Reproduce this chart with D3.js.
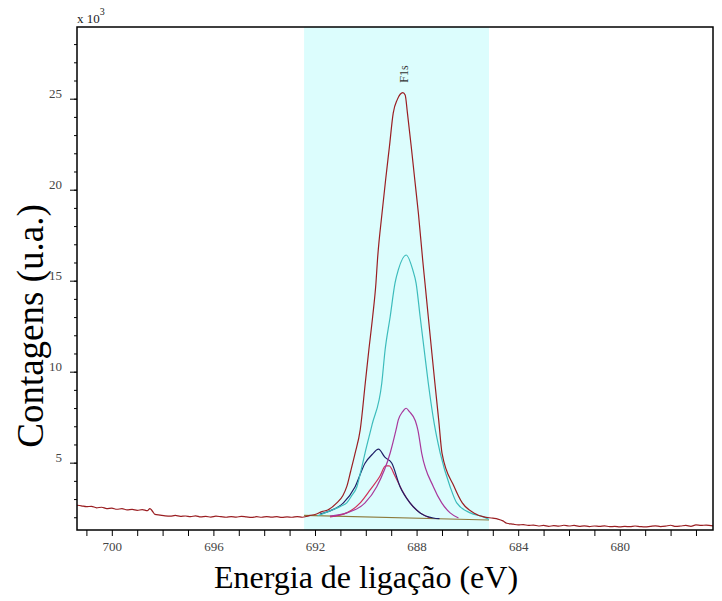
<!DOCTYPE html>
<html>
<head>
<meta charset="utf-8">
<script src="https://cdn.jsdelivr.net/npm/d3@7"></script>
<style>
  body { margin: 0; background: #fff; }
  text { font-family: "Liberation Serif", "Times New Roman", serif; }
</style>
</head>
<body>
<div id="chart"></div>
<script>
// data: [binding energy eV, counts x10^3]
const spectrum = [
  [701.37, 2.66], [701.2, 2.63], [701.0, 2.58], [700.8, 2.6], [700.6, 2.52], [700.4, 2.55],
  [700.2, 2.48], [700.0, 2.5], [699.8, 2.44], [699.6, 2.47], [699.4, 2.41], [699.2, 2.43],
  [699.0, 2.38], [698.8, 2.42], [698.6, 2.36], [698.5, 2.48], [698.4, 2.33], [698.3, 2.16],
  [698.1, 2.12], [697.9, 2.08], [697.7, 2.06], [697.5, 2.1], [697.3, 2.05], [697.1, 2.07],
  [696.9, 2.03], [696.7, 2.08], [696.5, 2.02], [696.3, 2.05], [696.1, 2.01], [695.9, 2.06],
  [695.7, 2.03], [695.5, 2.0], [695.3, 2.04], [695.1, 2.01], [694.9, 2.05], [694.7, 2.02],
  [694.5, 1.99], [694.3, 2.03], [694.1, 2.0], [693.9, 2.04], [693.7, 2.01], [693.5, 2.03],
  [693.3, 1.99], [693.1, 2.02], [692.9, 2.0], [692.7, 2.04], [692.5, 2.0], [692.3, 2.06],
  [692.2, 2.1], [692.0, 2.15], [691.73, 2.31], [691.5, 2.4], [691.14, 2.79], [690.9, 3.2],
  [690.75, 3.68], [690.6, 4.5], [690.42, 5.52], [690.22, 6.8], [690.02, 9.38], [689.88, 11.19],
  [689.73, 13.02], [689.6, 14.87], [689.54, 16.14], [689.36, 18.72], [689.22, 20.53],
  [689.07, 22.36], [688.92, 24.21], [688.76, 24.95], [688.54, 25.33], [688.45, 25.2],
  [688.36, 24.21], [688.21, 22.36], [688.07, 20.53], [687.93, 18.72], [687.76, 16.14],
  [687.67, 14.87], [687.54, 13.02], [687.41, 11.19], [687.28, 9.38], [687.13, 7.35],
  [687.0, 5.53], [686.52, 3.68], [686.2, 2.79], [685.75, 2.24], [685.35, 2.02], [685.0, 1.95],
  [684.8, 1.9], [684.6, 1.8], [684.45, 1.67], [684.2, 1.62], [684.0, 1.58], [683.8, 1.6],
  [683.6, 1.55], [683.4, 1.57], [683.2, 1.52], [683.0, 1.55], [682.8, 1.5], [682.6, 1.54],
  [682.4, 1.51], [682.2, 1.56], [682.0, 1.52], [681.8, 1.55], [681.6, 1.5], [681.4, 1.53],
  [681.2, 1.49], [681.0, 1.52], [680.8, 1.5], [680.6, 1.53], [680.4, 1.48], [680.2, 1.5],
  [680.0, 1.47], [679.8, 1.5], [679.6, 1.48], [679.4, 1.52], [679.2, 1.49], [679.0, 1.47],
  [678.8, 1.5], [678.6, 1.53], [678.4, 1.49], [678.2, 1.51], [678.0, 1.56], [677.8, 1.5],
  [677.6, 1.52], [677.4, 1.55], [677.2, 1.5], [677.0, 1.58], [676.8, 1.55], [676.6, 1.57],
  [676.33, 1.53]
]

const peakCyan = [
  [691.9, 2.08], [691.41, 2.35], [691.0, 2.6], [690.75, 2.79], [690.55, 3.2], [690.35, 3.68],
  [690.2, 4.5], [690.03, 5.53], [689.75, 7.1], [689.37, 9.38], [689.24, 11.19], [689.04, 13.02],
  [688.85, 14.86], [688.72, 15.59], [688.41, 16.41], [688.15, 15.59], [688.02, 14.87],
  [687.86, 13.02], [687.7, 11.19], [687.54, 9.38], [687.3, 7.1], [687.07, 5.53], [686.68, 3.68],
  [686.42, 2.79], [685.89, 2.24], [685.37, 2.02], [685.15, 1.88]
]

const peakMagenta = [
  [691.41, 2.06], [690.75, 2.24], [690.03, 2.79], [689.57, 3.68], [689.04, 5.53], [688.81, 6.8],
  [688.72, 7.35], [688.55, 7.8], [688.41, 7.99], [688.28, 7.8], [688.05, 7.3], [687.95, 6.8],
  [687.8, 5.53], [687.34, 3.68], [687.01, 2.79], [686.68, 2.24], [686.35, 1.96]
]

const peakNavy = [
  [691.8, 2.18], [691.41, 2.35], [690.88, 2.79], [690.42, 3.68], [690.03, 4.97], [689.75, 5.45],
  [689.5, 5.74], [689.25, 5.3], [688.98, 4.98], [688.65, 3.68], [688.26, 2.79], [687.86, 2.24],
  [687.34, 1.96], [687.1, 1.92]
]

const peakRed = [
  [691.41, 2.02], [690.75, 2.24], [690.22, 2.79], [689.83, 3.5], [689.44, 4.27], [689.22, 4.82],
  [689.08, 4.82], [688.85, 4.27], [688.58, 3.5], [688.26, 2.79], [687.86, 2.24], [687.47, 1.96]
]

const background = [[692.43, 2.1], [685.15, 1.85]]
const regionF1s = [692.43, 685.15]
const peakLabel = { text: 'F1s', energy: 688.5, counts: 25.33 }

const xDomain = [701.37, 676.33]
const yDomain = [1.3, 28.94]
const xTickLabels = [700, 696, 692, 688, 684, 680]
const yTickLabels = [5, 10, 15, 20, 25]

// layout
const width = 722
const height = 601
const plotLeft = 77, plotRight = 713, plotTop = 27, plotBottom = 530

const svg = d3.select('#chart').append('svg')
  .attr('width', width).attr('height', height)

const x = d3.scaleLinear().domain(xDomain).range([plotLeft, plotRight])
const y = d3.scaleLinear().domain(yDomain).range([plotBottom, plotTop])

// shaded region
svg.append('rect')
  .attr('x', x(regionF1s[0]))
  .attr('y', plotTop)
  .attr('width', x(regionF1s[1]) - x(regionF1s[0]))
  .attr('height', plotBottom - plotTop)
  .attr('fill', '#dcfdfd')

const line = d3.line().x(d => x(d[0])).y(d => y(d[1])).curve(d3.curveMonotoneX)

const series = [
  { data: background, color: '#8c7a3c' },
  { data: peakRed, color: '#d0305a' },
  { data: peakNavy, color: '#1e1e66' },
  { data: peakMagenta, color: '#a8389c' },
  { data: peakCyan, color: '#3cbcbc' },
  { data: spectrum, color: '#9a1e22' }
]

svg.selectAll('path.curve')
  .data(series)
  .enter().append('path')
  .attr('class', 'curve')
  .attr('d', d => line(d.data))
  .attr('fill', 'none')
  .attr('stroke', d => d.color)
  .attr('stroke-width', 1.2)

// frame
svg.append('rect')
  .attr('x', plotLeft).attr('y', plotTop)
  .attr('width', plotRight - plotLeft).attr('height', plotBottom - plotTop)
  .attr('fill', 'none').attr('stroke', '#000').attr('stroke-width', 1.5)

// x axis
const xAxis = d3.axisBottom(x)
  .tickValues(d3.range(701, 676, -1))
  .tickSize(6)
  .tickPadding(6)
  .tickFormat(d => xTickLabels.includes(d) ? d : '')
const gx = svg.append('g').attr('transform', `translate(0,${plotBottom})`).call(xAxis)
gx.select('.domain').remove()
gx.selectAll('line').attr('stroke', '#000')
gx.selectAll('text').attr('fill', '#444').style('font-size', '13px')
  .style('font-family', '"Liberation Serif", serif')

// y axis, minor ticks
const gyMinor = svg.append('g').attr('transform', `translate(${plotLeft},0)`)
  .call(d3.axisLeft(y).tickValues(d3.range(2, 29)).tickSize(3).tickFormat(''))
gyMinor.select('.domain').remove()
gyMinor.selectAll('line').attr('stroke', '#000')

// y axis, major ticks with labels sitting on the tick
const gyMajor = svg.append('g').attr('transform', `translate(${plotLeft},0)`)
  .call(d3.axisLeft(y).tickValues(yTickLabels).tickSize(7).tickPadding(8))
gyMajor.select('.domain').remove()
gyMajor.selectAll('line').attr('stroke', '#000')
gyMajor.selectAll('text')
  .attr('dy', '-0.1em')
  .attr('fill', '#444')
  .style('font-size', '13px')
  .style('font-family', '"Liberation Serif", serif')

// multiplier
const mult = svg.append('text').attr('x', plotLeft).attr('y', 23)
  .attr('fill', '#222').style('font-size', '13px')
mult.append('tspan').text('x 10')
mult.append('tspan').attr('dy', -8).style('font-size', '10px').text('3')

// peak label
svg.append('text')
  .attr('transform', `translate(${x(peakLabel.energy) + 4},${y(peakLabel.counts) - 10}) rotate(-90)`)
  .attr('fill', '#333')
  .style('font-size', '12px')
  .text(peakLabel.text)

// axis titles
svg.append('text')
  .attr('x', 366)
  .attr('y', 588)
  .attr('text-anchor', 'middle')
  .style('font-size', '32px')
  .text('Energia de ligação (eV)')

svg.append('text')
  .attr('transform', 'translate(43,326) rotate(-90)')
  .attr('text-anchor', 'middle')
  .style('font-size', '37px')
  .text('Contagens (u.a.)')
</script>
</body>
</html>
